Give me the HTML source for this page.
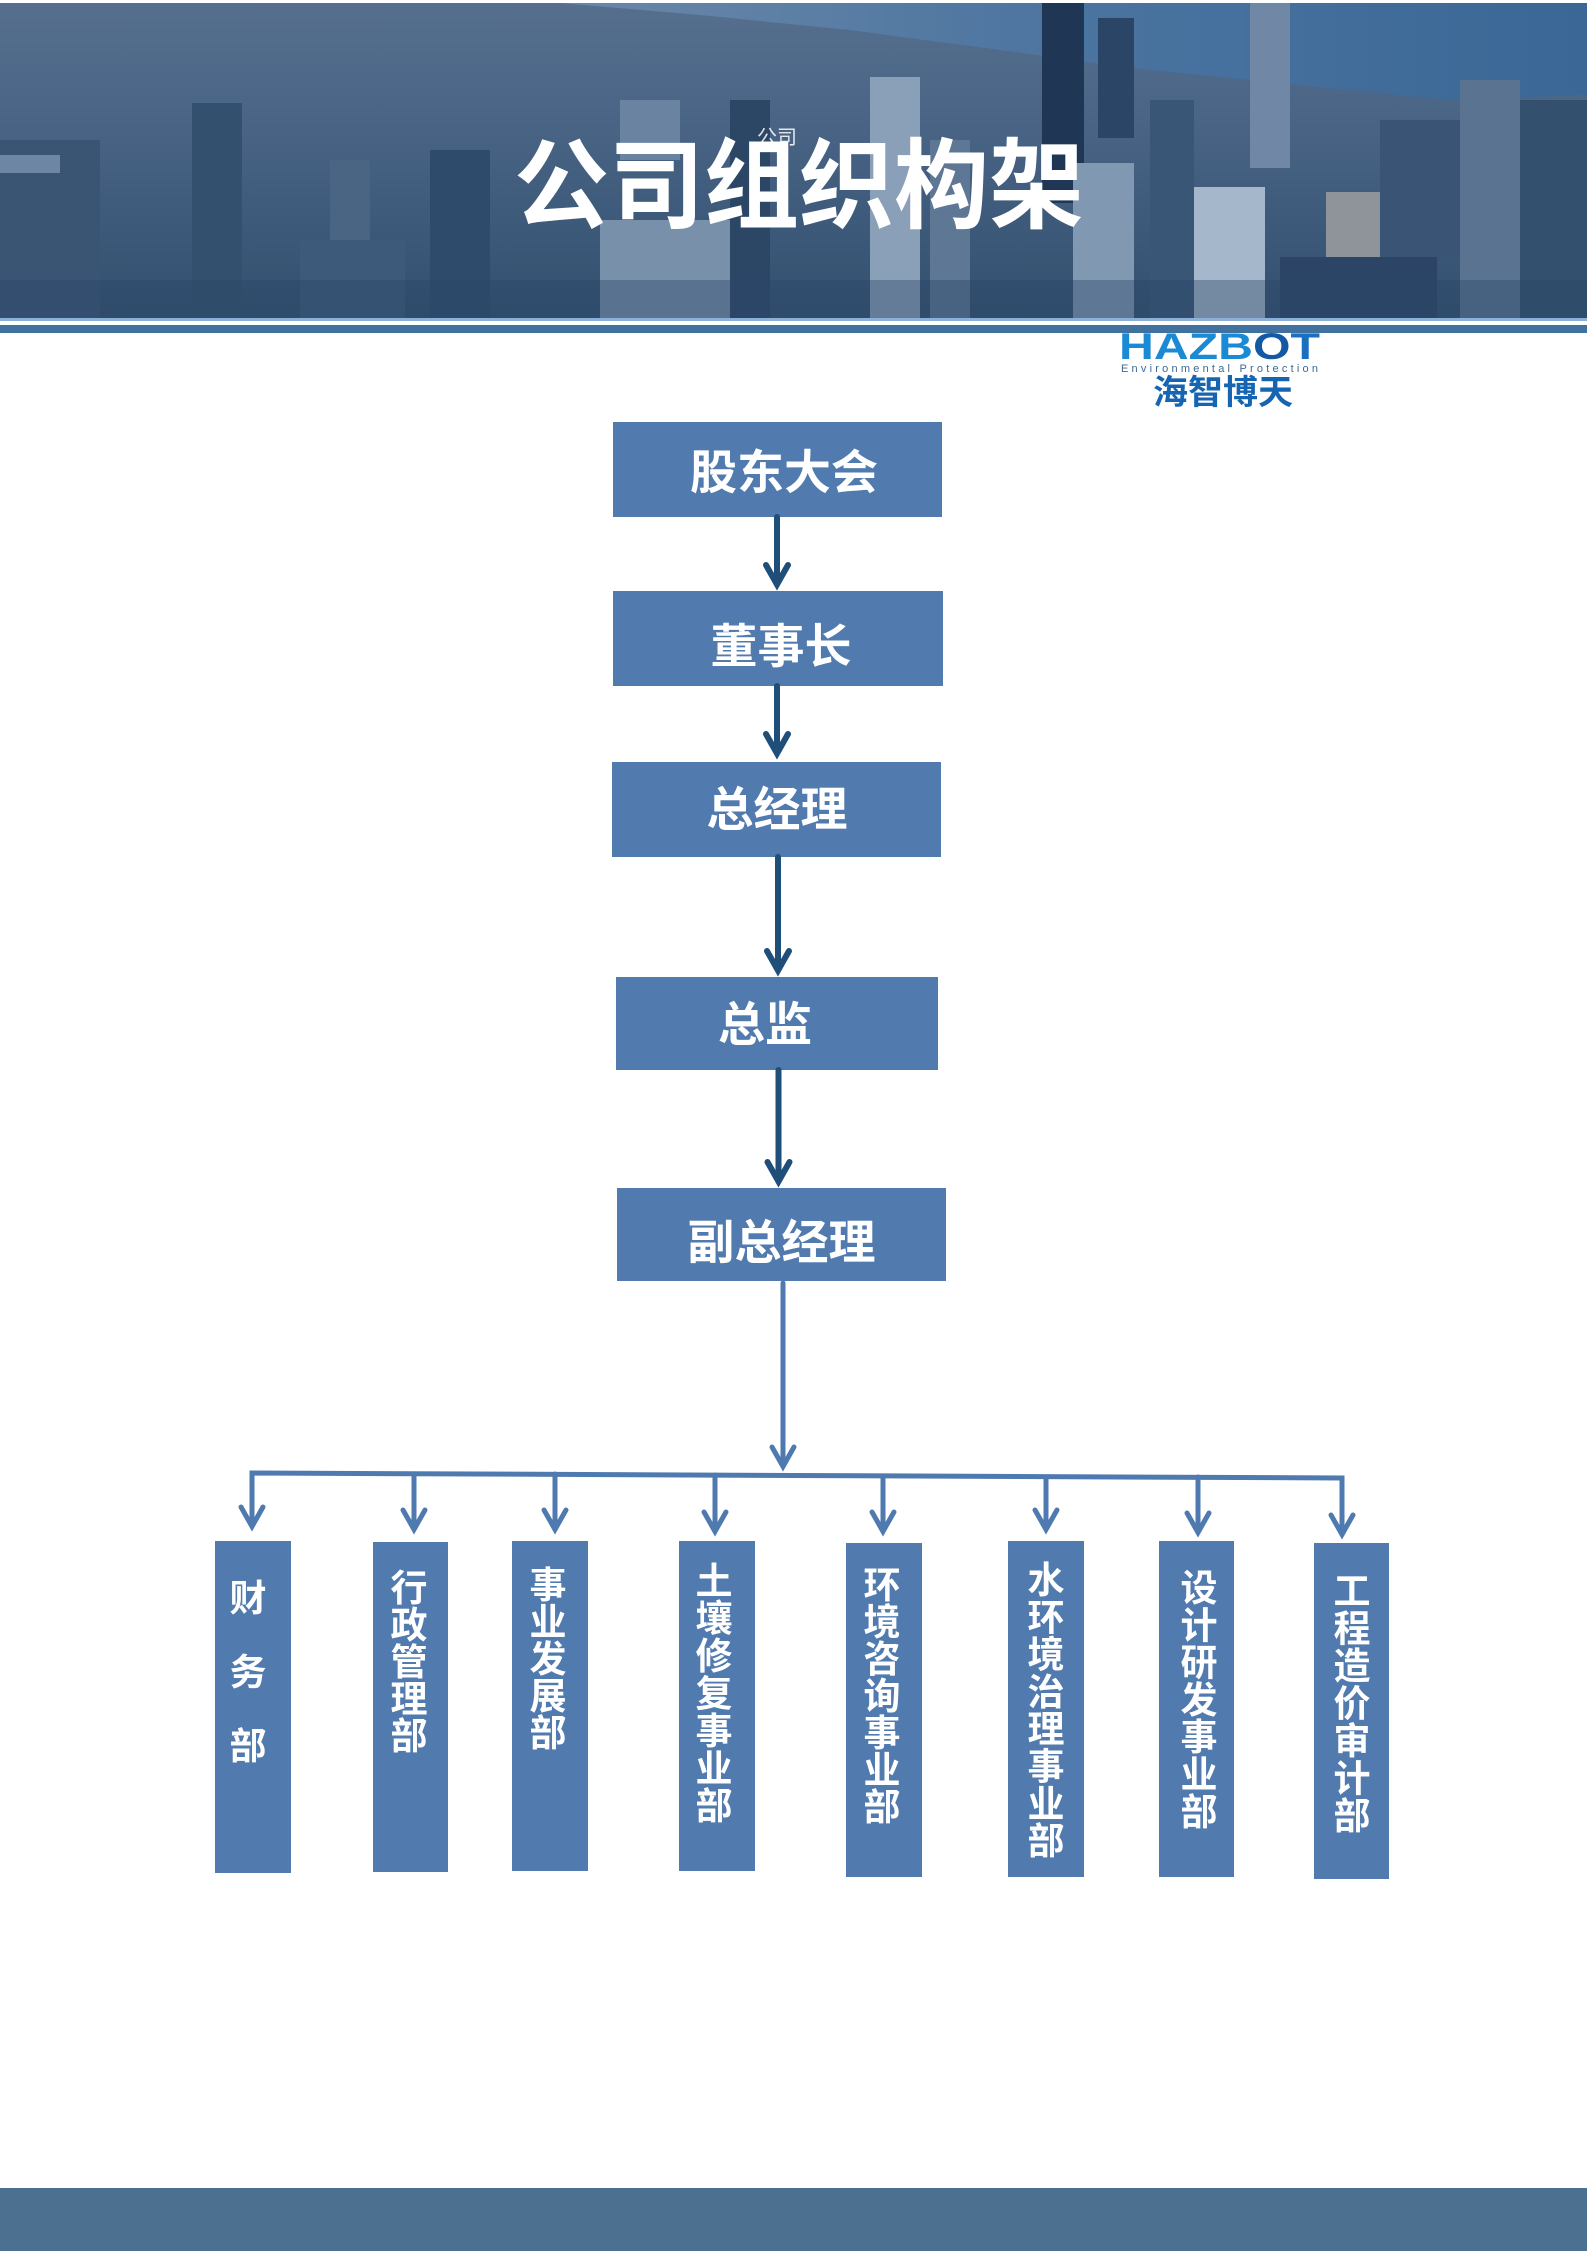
<!DOCTYPE html>
<html>
<head>
<meta charset="utf-8">
<style>
html,body{margin:0;padding:0;background:#ffffff;}
body{width:1587px;height:2251px;overflow:hidden;}
svg{display:block;}
.cjk{font-family:"Liberation Sans","Noto Sans CJK SC","WenQuanYi Zen Hei",sans-serif;font-weight:700;}
</style>
</head>
<body>
<svg width="1587" height="2251" viewBox="0 0 1587 2251" xmlns="http://www.w3.org/2000/svg">
  <defs>
    <linearGradient id="bg" x1="0" y1="0" x2="0" y2="1">
      <stop offset="0" stop-color="#566f8e"/>
      <stop offset="0.35" stop-color="#4a6586"/>
      <stop offset="1" stop-color="#33506f"/>
    </linearGradient>
    <linearGradient id="sea" x1="0" y1="0" x2="1" y2="0">
      <stop offset="0" stop-color="#6a88a8"/>
      <stop offset="0.5" stop-color="#4b74a0"/>
      <stop offset="1" stop-color="#3a6796"/>
    </linearGradient>
  </defs>

  <rect x="0" y="0" width="1587" height="2251" fill="#ffffff"/>

  <!-- Banner -->
  <rect x="0" y="3" width="1587" height="315" fill="url(#bg)"/>
  <polygon points="560,3 1587,3 1587,95 1450,100 1300,85 1150,70 1000,50 850,30 700,15" fill="url(#sea)"/>
  <g>
    <rect x="0" y="140" width="100" height="178" fill="#3a5473"/>
    <rect x="0" y="155" width="60" height="18" fill="#6c86a4"/>
    <rect x="192" y="103" width="50" height="215" fill="#33506f"/>
    <rect x="300" y="240" width="105" height="78" fill="#3d5a7a"/>
    <rect x="330" y="160" width="40" height="80" fill="#4a6484"/>
    <rect x="430" y="150" width="60" height="168" fill="#2f4b6b"/>
    <rect x="600" y="220" width="130" height="98" fill="#7890aa"/>
    <rect x="620" y="100" width="60" height="60" fill="#6a83a1"/>
    <rect x="730" y="100" width="40" height="218" fill="#2c4766"/>
    <rect x="870" y="77" width="50" height="241" fill="#8aa0b8"/>
    <rect x="930" y="140" width="40" height="178" fill="#5d7795"/>
    <rect x="1042" y="3" width="42" height="200" fill="#1f3654"/>
    <rect x="1098" y="18" width="36" height="120" fill="#2a4566"/>
    <rect x="1073" y="163" width="61" height="155" fill="#8198b2"/>
    <rect x="1150" y="100" width="44" height="218" fill="#3a5677"/>
    <rect x="1194" y="187" width="71" height="131" fill="#a5b7cb"/>
    <rect x="1250" y="3" width="40" height="165" fill="#7088a5"/>
    <rect x="1326" y="192" width="66" height="65" fill="#8f939a"/>
    <rect x="1280" y="257" width="157" height="61" fill="#2c4566"/>
    <rect x="1380" y="120" width="80" height="137" fill="#3a5475"/>
    <rect x="1460" y="80" width="60" height="238" fill="#5a7391"/>
    <rect x="1520" y="100" width="67" height="218" fill="#34506f"/>
    <rect x="0" y="280" width="1587" height="38" fill="#2b4767" opacity="0.4"/>
  </g>

  <!-- Title -->
  <text x="757" y="144" font-family="Liberation Sans, Noto Sans CJK SC, sans-serif" font-size="20" fill="#ffffff" opacity="0.85">公司</text>
  <text class="cjk" x="799" y="220" font-size="98" fill="#ffffff" text-anchor="middle" textLength="570" lengthAdjust="spacingAndGlyphs">公司组织构架</text>

  <!-- stripes -->
  <rect x="0" y="318" width="1587" height="3" fill="#8db1d6"/>
  <rect x="0" y="325" width="1587" height="8" fill="#41719f"/>

  <!-- Logo -->
  <text x="1119" y="359" font-family="Liberation Sans, sans-serif" font-weight="700" font-size="37" textLength="201" lengthAdjust="spacingAndGlyphs"><tspan fill="#1a8ad4">HAZB</tspan><tspan fill="#1459a3">O</tspan><tspan fill="#1a6fc0">T</tspan></text>
  <text x="1121" y="372" font-family="Liberation Sans, sans-serif" font-size="11" fill="#3d6894" textLength="197" lengthAdjust="spacing">Environmental Protection</text>
  <text class="cjk" x="1153" y="404" font-size="34" fill="#1565b2" textLength="140" lengthAdjust="spacingAndGlyphs">海智博天</text>

  <!-- Top boxes -->
  <g fill="#517aae">
    <rect x="613" y="422" width="329" height="95"/>
    <rect x="613" y="591" width="330" height="95"/>
    <rect x="612" y="762" width="329" height="95"/>
    <rect x="616" y="977" width="322" height="93"/>
    <rect x="617" y="1188" width="329" height="93"/>
  </g>
  <g class="cjk" font-size="47" fill="#ffffff" text-anchor="middle">
    <text x="784" y="489">股东大会</text>
    <text x="781" y="663">董事长</text>
    <text x="777" y="826">总经理</text>
    <text x="765" y="1041">总监</text>
    <text x="781.5" y="1259">副总经理</text>
  </g>

  <!-- Top arrows -->
  <g stroke="#1f4e79" stroke-width="6" fill="none" stroke-linecap="round" stroke-linejoin="miter">
    <line x1="777" y1="517" x2="777" y2="584"/>
    <path d="M766,565 L777,584.5 L788,565"/>
    <line x1="777" y1="686" x2="777" y2="753"/>
    <path d="M766,734 L777,753.5 L788,734"/>
    <line x1="778" y1="857" x2="778" y2="970"/>
    <path d="M767,951 L778,970.5 L789,951"/>
    <line x1="778.5" y1="1070" x2="778.5" y2="1181"/>
    <path d="M767.5,1162 L778.5,1181.5 L789.5,1162"/>
  </g>

  <!-- Bottom connectors -->
  <g stroke="#4f7ab0" stroke-width="5" fill="none" stroke-linecap="round" stroke-linejoin="miter">
    <line x1="783" y1="1283" x2="783" y2="1466"/>
    <path d="M772,1447 L783,1466.5 L794,1447"/>
    <path d="M252,1526 L252,1473 L1342,1478 L1342,1534" stroke-linecap="butt"/>
    <path d="M241,1507 L252,1526.5 L263,1507"/>
    <line x1="414" y1="1474" x2="414" y2="1529"/>
    <path d="M403,1510 L414,1529.5 L425,1510"/>
    <line x1="555" y1="1474" x2="555" y2="1529"/>
    <path d="M544,1510 L555,1529.5 L566,1510"/>
    <line x1="715" y1="1475" x2="715" y2="1531"/>
    <path d="M704,1512 L715,1531.5 L726,1512"/>
    <line x1="883" y1="1476" x2="883" y2="1531"/>
    <path d="M872,1512 L883,1531.5 L894,1512"/>
    <line x1="1046" y1="1477" x2="1046" y2="1529"/>
    <path d="M1035,1510 L1046,1529.5 L1057,1510"/>
    <line x1="1198" y1="1477" x2="1198" y2="1532"/>
    <path d="M1187,1513 L1198,1532.5 L1209,1513"/>
    <path d="M1331,1515 L1342,1534.5 L1353,1515"/>
  </g>

  <!-- Department boxes -->
  <g fill="#517aae">
    <rect x="215" y="1541" width="76" height="332"/>
    <rect x="373" y="1542" width="75" height="330"/>
    <rect x="512" y="1541" width="76" height="330"/>
    <rect x="679" y="1541" width="76" height="330"/>
    <rect x="846" y="1543" width="76" height="334"/>
    <rect x="1008" y="1541" width="76" height="336"/>
    <rect x="1159" y="1541" width="75" height="336"/>
    <rect x="1314" y="1543" width="75" height="336"/>
  </g>

  <g class="cjk" font-size="37" fill="#ffffff" text-anchor="middle">
    <!-- 财务部 -->
    <text x="248" y="1611">财</text>
    <text x="248" y="1685">务</text>
    <text x="248" y="1759">部</text>
    <!-- 行政管理部 -->
    <text x="409" y="1601">行</text>
    <text x="409" y="1638">政</text>
    <text x="409" y="1675">管</text>
    <text x="409" y="1712">理</text>
    <text x="409" y="1749">部</text>
    <!-- 事业发展部 -->
    <text x="548" y="1598">事</text>
    <text x="548" y="1635">业</text>
    <text x="548" y="1672">发</text>
    <text x="548" y="1709">展</text>
    <text x="548" y="1746">部</text>
    <!-- 土壤修复事业部 -->
    <text x="714" y="1594">土</text>
    <text x="714" y="1631.5">壤</text>
    <text x="714" y="1669">修</text>
    <text x="714" y="1706.5">复</text>
    <text x="714" y="1744">事</text>
    <text x="714" y="1781.5">业</text>
    <text x="714" y="1819">部</text>
    <!-- 环境咨询事业部 -->
    <text x="882" y="1598">环</text>
    <text x="882" y="1635">境</text>
    <text x="882" y="1672">咨</text>
    <text x="882" y="1709">询</text>
    <text x="882" y="1746">事</text>
    <text x="882" y="1783">业</text>
    <text x="882" y="1820">部</text>
    <!-- 水环境治理事业部 -->
    <text x="1046" y="1593">水</text>
    <text x="1046" y="1630.3">环</text>
    <text x="1046" y="1667.6">境</text>
    <text x="1046" y="1704.9">治</text>
    <text x="1046" y="1742.2">理</text>
    <text x="1046" y="1779.5">事</text>
    <text x="1046" y="1816.8">业</text>
    <text x="1046" y="1854.1">部</text>
    <!-- 设计研发事业部 -->
    <text x="1199" y="1601">设</text>
    <text x="1199" y="1638.3">计</text>
    <text x="1199" y="1675.6">研</text>
    <text x="1199" y="1712.9">发</text>
    <text x="1199" y="1750.2">事</text>
    <text x="1199" y="1787.5">业</text>
    <text x="1199" y="1824.8">部</text>
    <!-- 工程造价审计部 -->
    <text x="1352" y="1604">工</text>
    <text x="1352" y="1641.5">程</text>
    <text x="1352" y="1679">造</text>
    <text x="1352" y="1716.5">价</text>
    <text x="1352" y="1754">审</text>
    <text x="1352" y="1791.5">计</text>
    <text x="1352" y="1829">部</text>
  </g>

  <!-- Footer -->
  <rect x="0" y="2188" width="1587" height="63" fill="#4c7090"/>
</svg>
</body>
</html>
